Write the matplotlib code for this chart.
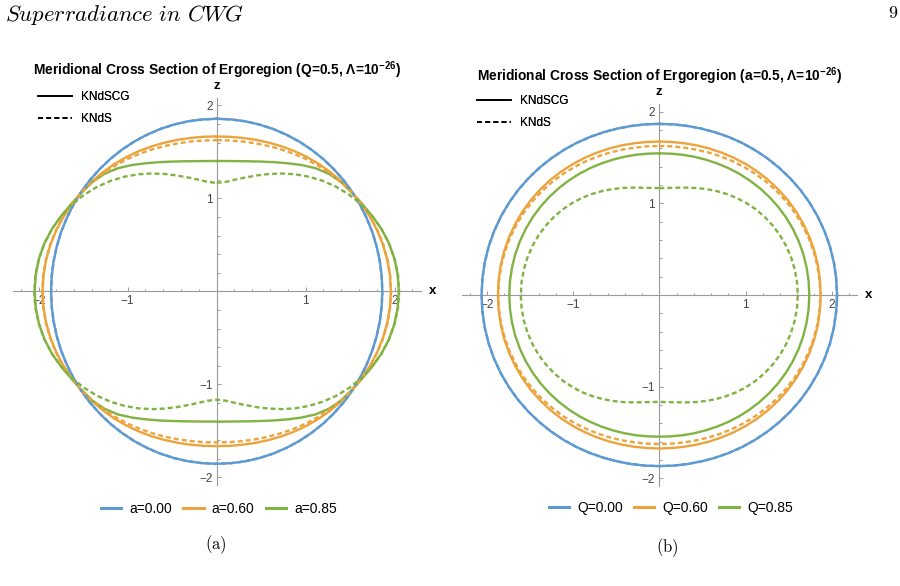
import numpy as np
import matplotlib.pyplot as plt
from matplotlib.lines import Line2D
from matplotlib.ticker import FixedLocator

plt.rcParams['font.family'] = ['Liberation Sans', 'DejaVu Sans']
plt.rcParams['mathtext.fontset'] = 'custom'
plt.rcParams['mathtext.rm'] = 'Liberation Sans'
plt.rcParams['mathtext.bf'] = 'Liberation Sans:bold'

# radius of each curve read along rays at these angles from the +z axis
# (first quadrant only; the ergoregion is symmetric about both axes)
ray_deg = [0, 5, 10, 15, 20, 25, 30, 35, 40, 45, 50, 55, 60, 65, 70, 75, 80, 85, 90]

# panel (a): Q=0.5, Lambda=1e-26, spin a varies
labels_a = ['a=0.00', 'a=0.60', 'a=0.85']
scg_a = [
    [1.855, 1.855, 1.856, 1.856, 1.857, 1.857, 1.858, 1.858, 1.859, 1.859,
     1.860, 1.860, 1.860, 1.860, 1.861, 1.861, 1.861, 1.861, 1.861],
    [1.665, 1.668, 1.675, 1.687, 1.702, 1.721, 1.742, 1.764, 1.787, 1.810,
     1.833, 1.855, 1.877, 1.899, 1.918, 1.934, 1.946, 1.954, 1.957],
    [1.401, 1.406, 1.421, 1.447, 1.484, 1.532, 1.590, 1.658, 1.728, 1.785,
     1.826, 1.852, 1.884, 1.925, 1.968, 2.003, 2.027, 2.041, 2.046],
]
kds_a = [
    [1.855, 1.855, 1.856, 1.856, 1.857, 1.857, 1.858, 1.858, 1.859, 1.859,
     1.860, 1.860, 1.860, 1.860, 1.861, 1.861, 1.861, 1.861, 1.861],
    [1.625, 1.628, 1.636, 1.649, 1.666, 1.687, 1.712, 1.739, 1.767, 1.796,
     1.825, 1.853, 1.879, 1.902, 1.922, 1.938, 1.950, 1.957, 1.960],
    [1.166, 1.181, 1.220, 1.268, 1.326, 1.392, 1.463, 1.536, 1.609, 1.681,
     1.750, 1.814, 1.873, 1.924, 1.968, 2.003, 2.029, 2.045, 2.050],
]

# panel (b): a=0.5, Lambda=1e-26, charge Q varies
labels_b = ['Q=0.00', 'Q=0.60', 'Q=0.85']
scg_b = [
    [1.866, 1.868, 1.872, 1.879, 1.889, 1.902, 1.916, 1.931, 1.947, 1.964,
     1.981, 1.998, 2.013, 2.027, 2.039, 2.049, 2.056, 2.060, 2.062],
    [1.674, 1.675, 1.680, 1.689, 1.700, 1.713, 1.728, 1.745, 1.762, 1.780,
     1.797, 1.814, 1.829, 1.842, 1.853, 1.862, 1.868, 1.871, 1.872],
    [1.545, 1.547, 1.553, 1.561, 1.571, 1.584, 1.599, 1.615, 1.631, 1.648,
     1.665, 1.681, 1.696, 1.709, 1.720, 1.729, 1.735, 1.739, 1.740],
]
kds_b = [
    [1.866, 1.868, 1.872, 1.879, 1.889, 1.902, 1.916, 1.931, 1.947, 1.964,
     1.981, 1.998, 2.013, 2.027, 2.039, 2.049, 2.056, 2.060, 2.062],
    [1.625, 1.627, 1.632, 1.642, 1.655, 1.670, 1.688, 1.707, 1.728, 1.749,
     1.770, 1.790, 1.809, 1.826, 1.840, 1.852, 1.861, 1.866, 1.868],
    [1.166, 1.172, 1.188, 1.212, 1.242, 1.275, 1.311, 1.348, 1.386, 1.422,
     1.457, 1.489, 1.518, 1.544, 1.566, 1.583, 1.596, 1.604, 1.607],
]

titles = ['Meridional Cross Section of Ergoregion (Q=0.5, Λ=10$^{\\mathbf{-26}}$)',
          'Meridional Cross Section of Ergoregion (a=0.5, Λ=10$^{\\mathbf{-26}}$)']
colors = ['#5E9AD2', '#EDA33C', '#80B342']

W, H = 900, 586
fig = plt.figure(figsize=(W / 100, H / 100), dpi=100)


def fx(px):
    return px / W


def fy(py):
    return 1 - py / H


def closed_curve(quarter):
    # mirror the first-quadrant radii into the full 0..360 degree loop
    q = list(quarter)
    ang = list(ray_deg)
    half_r = q + q[-2::-1]
    half_a = ang + [180 - a for a in ang[-2::-1]]
    full_r = np.array(half_r + half_r[-2::-1])
    full_a = np.deg2rad(half_a + [360 - a for a in half_a[-2::-1]])
    return full_r * np.sin(full_a), full_r * np.cos(full_a)


def make_panel(ox, oz, ux, uz, scg, kds, labels, title, title_y, leg_x, leg_y,
               key_x, key_y, caption, cap_x, cap_y):
    xl, zl = 2.29, 2.08
    left, right = ox - xl * ux, ox + xl * ux
    top, bottom = oz - zl * uz, oz + zl * uz
    ax = fig.add_axes([fx(left), fy(bottom), fx(right - left), (bottom - top) / H])
    ax.set_xlim(-xl, xl)
    ax.set_ylim(-zl, zl)
    ax.patch.set_alpha(0)
    for s in ['top', 'right']:
        ax.spines[s].set_visible(False)
    for s in ['left', 'bottom']:
        ax.spines[s].set_position(('data', 0))
        ax.spines[s].set_color('#9a9a9a')
        ax.spines[s].set_linewidth(0.8)
    major = [-2, -1, 1, 2]
    minor = [v / 5 for v in range(-11, 12) if v % 5 != 0]
    for axis in [ax.xaxis, ax.yaxis]:
        axis.set_major_locator(FixedLocator(major))
        axis.set_minor_locator(FixedLocator(minor))
    ax.set_xticklabels(['−2', '−1', '1', '2'])
    ax.set_yticklabels(['−2', '−1', '1', '2'])
    ax.tick_params(which='both', direction='in', color='#9a9a9a', width=0.7,
                   labelsize=8.5, labelcolor='#444444', pad=3)
    ax.tick_params(which='major', length=3.2)
    ax.tick_params(which='minor', length=1.8)

    for r, c in zip(scg, colors):
        x, z = closed_curve(r)
        ax.plot(x, z, color=c, lw=1.7, zorder=3, clip_on=False)
    for r, c in zip(kds, colors):
        x, z = closed_curve(r)
        ax.plot(x, z, color=c, lw=1.7, dashes=(2.1, 1.3), zorder=3, clip_on=False)

    fig.text(fx(right + 12), fy(oz), 'x', fontsize=9.5, fontweight='bold',
             ha='center', va='center')
    fig.text(fx(ox), fy(top - 12), 'z', fontsize=9.5, fontweight='bold',
             ha='center', va='center')
    fig.text(fx(ox), fy(title_y), title, fontsize=9.9, fontweight='bold',
             ha='center', va='center')

    style = [Line2D([], [], color='black', lw=1.2),
             Line2D([], [], color='black', lw=1.2, dashes=(3.0, 1.9))]
    leg1 = ax.legend(style, ['KNdSCG', 'KNdS'], loc='upper left',
                     bbox_to_anchor=(fx(key_x), fy(key_y)),
                     bbox_transform=fig.transFigure, frameon=False, fontsize=8.5,
                     handlelength=2.9, handletextpad=0.75, labelspacing=0.85,
                     borderpad=0, borderaxespad=0)
    ax.add_artist(leg1)

    handles = [Line2D([], [], color=c, lw=2.2) for c in colors]
    fig.legend(handles, labels, loc='center', bbox_to_anchor=(fx(leg_x), fy(leg_y)),
               ncol=3, frameon=False, fontsize=10, handlelength=1.45,
               handletextpad=0.6, columnspacing=0.8, borderpad=0)

    fig.text(fx(cap_x), fy(cap_y), r'$\mathrm{' + caption + '}$',
             math_fontfamily='cm', fontsize=12, ha='center', va='center')


make_panel(216.7, 291.3, 89.0, 93.0, scg_a, kds_a, labels_a, titles[0], 70,
           219, 509, 38, 91, '(a)', 216, 545)
make_panel(659.3, 295.0, 86.2, 91.7, scg_b, kds_b, labels_b, titles[1], 76,
           671, 508, 477, 95, '(b)', 667, 548)

fig.text(fx(5), fy(15), r'$Superradiance\ in\ CWG$', math_fontfamily='cm',
         fontsize=16.4, ha='left', va='center')
fig.text(fx(893), fy(14), r'$\mathrm{9}$', math_fontfamily='cm', fontsize=13,
         ha='center', va='center')

fig.savefig('out.png', dpi=100)
